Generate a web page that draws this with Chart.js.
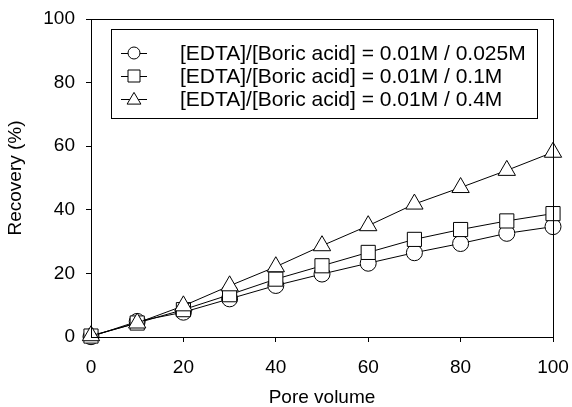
<!DOCTYPE html>
<html>
<head>
<meta charset="utf-8">
<script src="https://cdn.jsdelivr.net/npm/chart.js@4.4.1/dist/chart.umd.min.js"></script>
<style>
  html, body { margin: 0; padding: 0; background: #fff; }
  #wrap { width: 572px; height: 407px; }
</style>
</head>
<body>
<div id="wrap"><canvas id="recoveryChart"></canvas></div>
<script>
// pore volumes where recovery was measured
var poreVolume = [0, 10, 20, 30, 40, 50, 60, 70, 80, 90, 100];

// recovery (%) for each boric acid concentration (EDTA fixed at 0.01M)
var recovery025M = [0.1, 4.9, 7.8, 12.0, 16.2, 19.8, 23.2, 26.5, 29.4, 32.6, 34.7];
var recovery01M  = [0.3, 4.4, 8.6, 13.3, 18.2, 22.4, 26.6, 30.7, 33.8, 36.5, 38.8];
var recovery04M  = [0.4, 4.4, 9.8, 16.1, 22.1, 28.7, 35.0, 41.8, 47.0, 52.4, 58.1];

var seriesLabels = [
    "[EDTA]/[Boric acid] = 0.01M / 0.025M",
    "[EDTA]/[Boric acid] = 0.01M / 0.1M",
    "[EDTA]/[Boric acid] = 0.01M / 0.4M"
];
var seriesMarkers = ["circle", "rect", "triangle"];

var xTitle = "Pore volume";
var yTitle = "Recovery (%)";

var FONT = "'Liberation Sans', Arial, Helvetica, sans-serif";

function toPoints(ys) {
    return poreVolume.map(function (x, i) { return { x: x, y: ys[i] }; });
}

function drawMarker(ctx, style, x, y, r) {
    ctx.beginPath();
    if (style === "circle") {
        ctx.arc(x, y, r, 0, Math.PI * 2);
    } else if (style === "rect") {
        ctx.rect(x - r, y - r, r * 2, r * 2);
    } else {
        ctx.moveTo(x, y - r * 1.1);
        ctx.lineTo(x + r * 1.15, y + r * 0.85);
        ctx.lineTo(x - r * 1.15, y + r * 0.85);
        ctx.closePath();
    }
    ctx.fillStyle = "#fff";
    ctx.fill();
    ctx.stroke();
}

// frame round the plot area + the boxed legend with line-marker-line samples
var frameAndLegend = {
    id: "frameAndLegend",
    afterDraw: function (chart) {
        var ctx = chart.ctx;
        var a = chart.chartArea;
        ctx.save();
        ctx.strokeStyle = "#000";
        ctx.lineWidth = 1;
        ctx.strokeRect(Math.round(a.left) + 0.5, Math.round(a.top) + 0.5,
            Math.round(a.right - a.left), Math.round(a.bottom - a.top));

        var bx = Math.round(a.left) + 20, by = Math.round(a.top) + 10;
        var bw = 426, bh = 89;
        ctx.fillStyle = "#fff";
        ctx.fillRect(bx, by, bw, bh);
        ctx.strokeRect(bx + 0.5, by + 0.5, bw, bh);

        ctx.font = "21px " + FONT;
        ctx.textBaseline = "middle";
        seriesLabels.forEach(function (label, i) {
            var cy = by + 24 + i * 23;
            ctx.beginPath();
            ctx.moveTo(bx + 10, cy + 0.5);
            ctx.lineTo(bx + 36, cy + 0.5);
            ctx.stroke();
            drawMarker(ctx, seriesMarkers[i], bx + 23, cy, 6);
            ctx.fillStyle = "#000";
            ctx.fillText(label, bx + 69, cy + 1);
        });
        ctx.restore();
    }
};

// keep the plot area fixed: no extra room for overhanging tick labels
function noScalePadding(scale) {
    scale.paddingTop = 0;
    scale.paddingBottom = 0;
    scale.paddingLeft = 0;
    scale.paddingRight = 0;
}

var series = [recovery025M, recovery01M, recovery04M];
var markerRadius = [8, 10, 10];

new Chart(document.getElementById("recoveryChart"), {
    type: "line",
    data: {
        datasets: series.map(function (ys, i) {
            return {
                label: seriesLabels[i],
                data: toPoints(ys),
                borderColor: "#000",
                borderWidth: 1,
                backgroundColor: "#fff",
                pointStyle: seriesMarkers[i],
                pointRadius: markerRadius[i],
                pointBorderWidth: 1,
                pointBorderColor: "#000",
                pointBackgroundColor: "#fff",
                tension: 0,
                clip: false,
                order: 3 - i
            };
        })
    },
    options: {
        responsive: true,
        maintainAspectRatio: false,
        animation: false,
        layout: { padding: { top: 19, right: 19, left: 0, bottom: 0 } },
        plugins: {
            legend: { display: false },
            tooltip: { enabled: false }
        },
        scales: {
            x: {
                type: "linear",
                min: 0,
                max: 100,
                ticks: { stepSize: 20, color: "#000", font: { family: FONT, size: 19 }, padding: 14, maxRotation: 0 },
                grid: { display: true, drawOnChartArea: false, drawTicks: true, tickLength: 5, color: "#000" },
                border: { display: true, color: "#000" },
                title: { display: true, text: xTitle, color: "#000", font: { family: FONT, size: 19 }, padding: { top: 8, bottom: -2 } },
                afterFit: function (scale) { scale.height = 70; noScalePadding(scale); }
            },
            y: {
                min: 0,
                max: 100,
                ticks: { stepSize: 20, color: "#000", font: { family: FONT, size: 19 }, padding: 11 },
                grid: { display: true, drawOnChartArea: false, drawTicks: true, tickLength: 5, color: "#000" },
                border: { display: true, color: "#000" },
                title: { display: true, text: yTitle, color: "#000", font: { family: FONT, size: 19 }, padding: { top: 4, bottom: 0 } },
                afterFit: function (scale) { scale.width = 91; noScalePadding(scale); }
            }
        }
    },
    plugins: [frameAndLegend]
});
</script>
</body>
</html>
